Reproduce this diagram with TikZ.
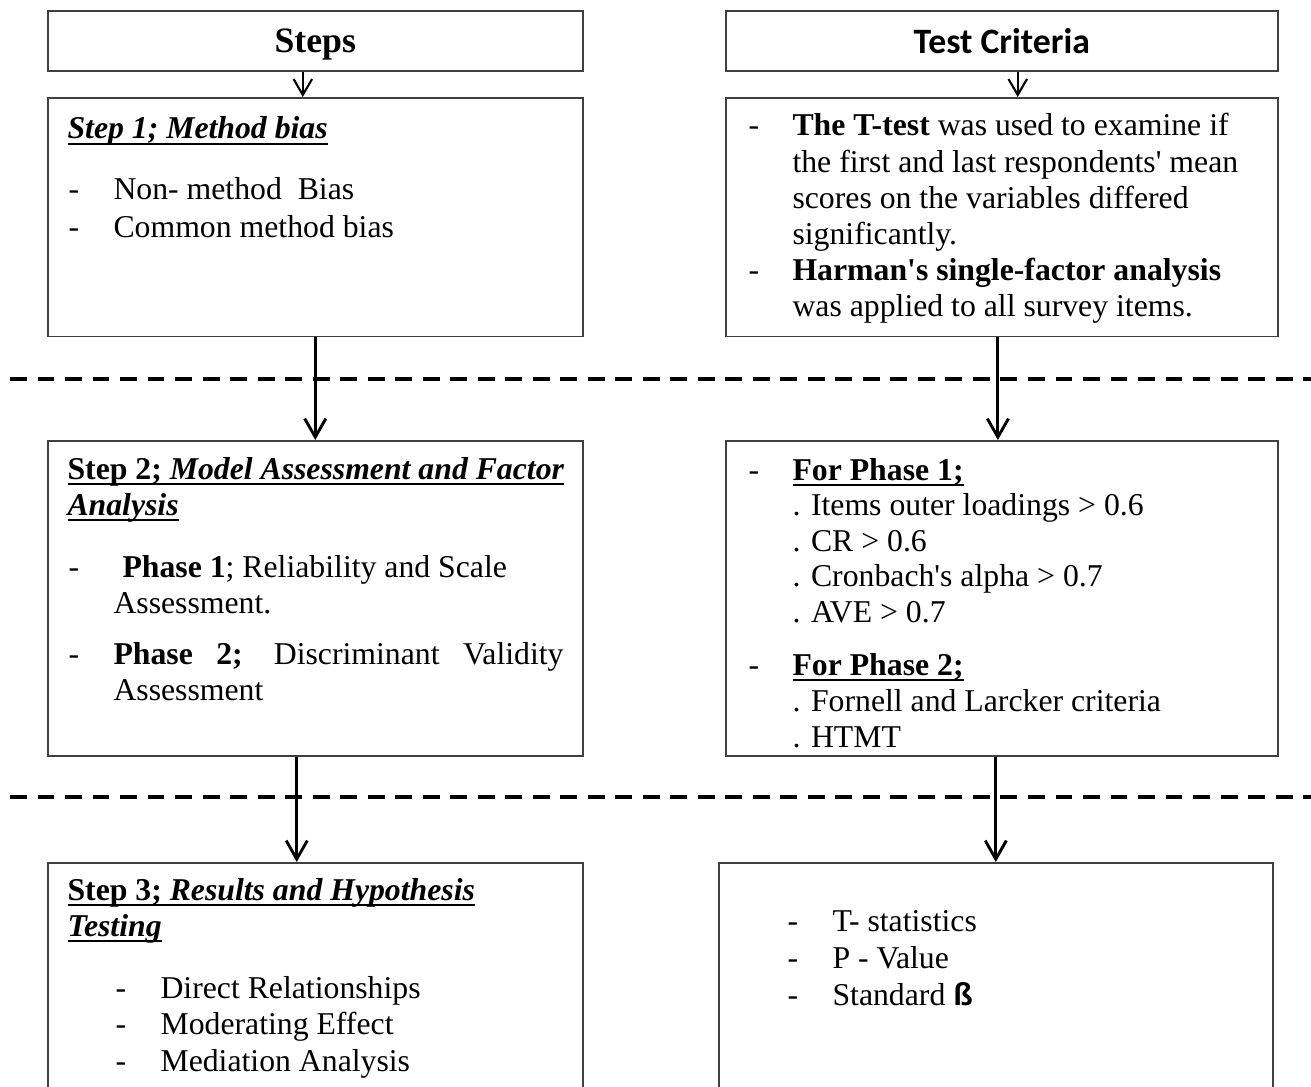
\documentclass[tikz,border=0pt]{standalone}
\usepackage{fontspec}
\setmainfont{Liberation Serif}
\setsansfont{Liberation Sans}
\newfontfamily\hdfont{Carlito}
\usetikzlibrary{arrows.meta}
\newcommand\uln[1]{\setbox0\hbox{#1}\rlap{\rule[-2.4pt]{\wd0}{0.75pt}}\box0}

\begin{document}
\begin{tikzpicture}[x=0.378pt, y=-0.378pt,
    font=\fontsize{12}{14}\selectfont,
    box/.style={draw=black!75, line width=0.6pt, anchor=north west, inner sep=0pt},
    hd/.style={box, minimum height=22.7pt, text depth=0pt, font=\fontsize{13.5}{16}\selectfont\bfseries},
    txt/.style={anchor=base west, inner sep=0pt},
    arr/.style={-{Straight Barb[length=7pt,width=8pt]}, line width=1.1pt},
    sarr/.style={-{Straight Barb[length=6pt,width=7pt]}, line width=0.8pt},
    sep/.style={dash pattern=on 6.4pt off 4pt, line width=1.6pt}]
	\clip (0,0) rectangle (1311,1086);

	% column heads
	\node[hd, minimum width=202.2pt] (hdsteps) at (47,10) {Steps};
	\node[hd, minimum width=208.7pt] (hdcrit) at (725,10) {\hdfont Test Criteria};

	% boxes
	\node[box, minimum width=202.2pt, minimum height=90.3pt] (stepone) at (47,97) {};
	\node[box, minimum width=208.7pt, minimum height=90.3pt] (critone) at (725,97) {};
	\node[box, minimum width=202.2pt, minimum height=119.1pt] (steptwo) at (47,440) {};
	\node[box, minimum width=208.7pt, minimum height=119.1pt] (crittwo) at (725,440) {};
	\node[box, minimum width=202.2pt, minimum height=92pt] (stepthree) at (47,862) {};
	\node[box, minimum width=209.4pt, minimum height=92pt] (critthree) at (718,862) {};

	% separators
	\draw[sep] (10,379) -- (1320,379);
	\draw[sep] (10,797) -- (1320,797);

	% step 1
	\node[txt] (sa0) at (67,139) {\uln{\textbf{\textit{Step 1; Method bias}}}};
	\node[txt] (sad1) at (68,199) {-};
	\node[txt] (sa1) at (113,199) {Non- method\ \ Bias};
	\node[txt] (sad2) at (68,237) {-};
	\node[txt] (sa2) at (113,237) {Common method bias};

	% criteria 1
	\node[txt] (cad1) at (748,136) {-};
	\node[txt] (ca1) at (792,136) {\textbf{The T-test} was used to examine if};
	\node[txt] (ca2) at (792,172) {the first and last respondents\textquotesingle{} mean};
	\node[txt] (ca3) at (792,208) {scores on the variables differed};
	\node[txt] (ca4) at (792,244) {significantly.};
	\node[txt] (cad2) at (748,280) {-};
	\node[txt] (ca5) at (792,280) {\textbf{Harman\textquotesingle s single-factor analysis}};
	\node[txt] (ca6) at (792,316) {was applied to all survey items.};

	% step 2
	\node[txt] (sb0) at (67,479) {\uln{\textbf{Step 2; \textit{Model Assessment and Factor}}}};
	\node[txt] (sb1) at (67,515) {\uln{\textbf{\textit{Analysis}}}};
	\node[txt] (sbd1) at (68,577) {-};
	\node[txt] (sb2) at (122,577) {\textbf{Phase 1}; Reliability and Scale};
	\node[txt] (sb3) at (113,613) {Assessment.};
	\node[txt] (sbd2) at (68,664) {-};
	\node[txt] (sb4) at (113,664) {\makebox[170.1pt][s]{\textbf{Phase 2;} Discriminant Validity}};
	\node[txt] (sb5) at (113,700) {Assessment};

	% criteria 2
	\node[txt] (cbd1) at (748,480) {-};
	\node[txt] (cb0) at (792,480) {\uln{\textbf{For Phase 1;}}};
	\foreach \t [count=\i] in {. Items outer loadings > 0.6, . CR > 0.6, . Cronbach\textquotesingle s alpha > 0.7, . AVE > 0.7}
		\node[txt] (cb\i) at (792,{480+35.5*\i}) {\t};
	\node[txt] (cbd2) at (748,675) {-};
	\node[txt] (cc0) at (792,675) {\uln{\textbf{For Phase 2;}}};
	\node[txt] (cc1) at (792,711) {. Fornell and Larcker criteria};
	\node[txt] (cc2) at (792,747) {. HTMT};

	% step 3
	\node[txt] (sc0) at (67,900) {\uln{\textbf{Step 3; \textit{Results and Hypothesis}}}};
	\node[txt] (sc00) at (67,936) {\uln{\textbf{\textit{Testing}}}};
	\foreach \t [count=\i] in {Direct Relationships, Moderating Effect, Mediation Analysis} {
		\node[txt] (scd\i) at (115,{961.5+36.5*\i}) {-};
		\node[txt] (sc\i) at (160,{961.5+36.5*\i}) {\t};
	}

	% criteria 3
	\foreach \t [count=\i] in {T- statistics, P - Value, Standard {\sffamily\bfseries ß}} {
		\node[txt] (cdd\i) at (787,{894+37*\i}) {-};
		\node[txt] (cd\i) at (832,{894+37*\i}) {\t};
	}

	% arrows
	\draw[sarr] ([xshift=-4.7pt]hdsteps.south) -- ([xshift=-4.7pt]stepone.north);
	\draw[sarr] ([xshift=6pt]hdcrit.south) -- ([xshift=6pt]critone.north);
	\draw[arr] (stepone.south) -- (steptwo.north);
	\draw[arr] ([xshift=-1.5pt]critone.south) -- ([xshift=-1.5pt]crittwo.north);
	\draw[arr] ([xshift=-7pt]steptwo.south) -- ([xshift=-7pt]stepthree.north);
	\draw[arr] (crittwo.south -| critthree.north) -- (critthree.north);
\end{tikzpicture}
\end{document}
